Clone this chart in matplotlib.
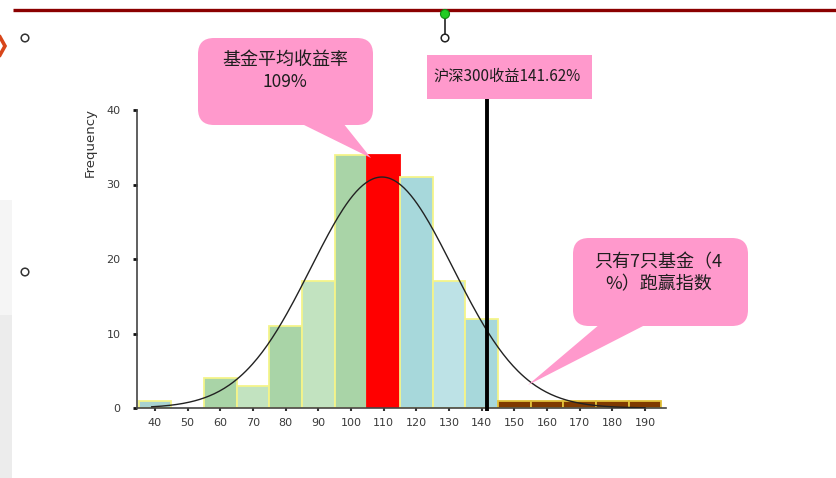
import numpy as np
import matplotlib
matplotlib.use("Agg")
import matplotlib.pyplot as plt
from matplotlib.patches import FancyBboxPatch, Polygon, Rectangle, Circle

plt.rcParams['font.family'] = ['Noto Sans CJK SC', 'DejaVu Sans']

# ---- data -------------------------------------------------------------
bin_centers = [40, 50, 60, 70, 80, 90, 100, 110, 120, 130, 140, 150, 160, 170, 180, 190]
fund_counts = [1, 0, 4, 3, 11, 17, 34, 34, 31, 17, 12, 1, 1, 1, 1, 1]
x_ticks = [40, 50, 60, 70, 80, 90, 100, 110, 120, 130, 140, 150, 160, 170, 180, 190]
y_ticks = [0, 10, 20, 30, 40]
avg_return = 109          # %
index_return = 141.62     # %
funds_beating = 7
share_beating = 4         # %
bin_width = 10

# ---- styling ----------------------------------------------------------
bar_colors = ['#A8D2D0', '#A9D6A9', '#A9D4A7', '#C2E3C0', '#A9D4A7', '#C2E3C0',
              '#A9D4A7', '#FF0000', '#A7D8DB', '#BDE2E6', '#A7D8DB',
              '#7F3A00', '#7F3A00', '#7F3A00', '#7F3A00', '#7F3A00']
edge_colors = ['#F4F48A'] * 7 + ['#FF0000'] + ['#F4F48A'] * 3 + ['#E2C23A'] * 5
pink = '#FF99CC'
text_dark = '#1E1E1E'

W, H = 837, 478
fig = plt.figure(figsize=(W / 100, H / 100), dpi=100)
fig.patch.set_facecolor('white')

# background decoration layer (pixel coordinates)
bg = fig.add_axes([0, 0, 1, 1], zorder=0)
bg.set_xlim(0, W)
bg.set_ylim(H, 0)
bg.axis('off')
bg.add_patch(Rectangle((0, 200), 12, 115, facecolor='#F5F5F5', edgecolor='none'))
bg.add_patch(Rectangle((0, 315), 12, 163, facecolor='#ECECEC', edgecolor='none'))

# ---- histogram axes ---------------------------------------------------
px_per_unit = 3.267
x_left, x_right = 34.5, 196.5
ax_left_px, ax_bottom_px = 137, 408
ax_w_px = (x_right - x_left) * px_per_unit
ax_h_px = 298
ax = fig.add_axes([ax_left_px / W, (H - ax_bottom_px) / H, ax_w_px / W, ax_h_px / H], zorder=1)
ax.patch.set_alpha(0)

lws = [1.3 if c > 0 else 0 for c in fund_counts]
ax.bar(bin_centers, fund_counts, width=bin_width, color=bar_colors,
       edgecolor=edge_colors, linewidth=lws, zorder=2)

# fitted normal curve from the histogram itself
centers = np.array(bin_centers, dtype=float)
counts = np.array(fund_counts, dtype=float)
n_total = counts.sum()
mu = (centers * counts).sum() / n_total
sd = np.sqrt((counts * (centers - mu) ** 2).sum() / (n_total - 1))
xs = np.linspace(39, 190, 300)
ys = n_total * bin_width / (sd * np.sqrt(2 * np.pi)) * np.exp(-0.5 * ((xs - mu) / sd) ** 2)
ax.plot(xs, ys, color='#222222', lw=1.0, zorder=3)

# index return marker line
ax.plot([index_return, index_return], [-0.4, 41.5], color='black', lw=2.8,
        solid_capstyle='butt', clip_on=False, zorder=4)

ax.set_xlim(x_left, x_right)
ax.set_ylim(0, 40)
ax.set_xticks(x_ticks)
ax.set_yticks(y_ticks)
ax.set_xticklabels([str(t) for t in x_ticks], fontsize=8, color='#3A3A3A',
                   family='DejaVu Sans')
ax.set_yticklabels([str(t) for t in y_ticks], fontsize=8, color='#3A3A3A',
                   family='DejaVu Sans')
ax.tick_params(axis='y', length=3, width=2, pad=9, color='#111111')
ax.tick_params(axis='x', length=2, width=1.5, pad=5, color='#333333')
for s in ['top', 'right']:
    ax.spines[s].set_visible(False)
for s in ['left', 'bottom']:
    ax.spines[s].set_color('#444444')
    ax.spines[s].set_linewidth(1.2)

fig.text(90 / W, 1 - 143 / H, 'Frequency', rotation=90, ha='center', va='center',
         fontsize=9.5, color='#333333', family='DejaVu Sans')

# ---- annotation layer (pixel coordinates) -----------------------------
ov = fig.add_axes([0, 0, 1, 1], zorder=5)
ov.set_xlim(0, W)
ov.set_ylim(H, 0)
ov.axis('off')
ov.patch.set_alpha(0)

# top rule and small handles
ov.plot([13, W], [9.5, 9.5], color='#8B0000', lw=2.4, solid_capstyle='butt', zorder=1)
ov.plot([445, 445], [14, 38], color='#222222', lw=1.2, zorder=2)
ov.add_patch(Circle((445, 14), 4.5, facecolor='#22CC22', edgecolor='#118811', lw=0.8, zorder=3))
ov.add_patch(Circle((445, 38), 3.8, facecolor='white', edgecolor='#222222', lw=1.1, zorder=3))
ov.add_patch(Circle((25, 38), 3.8, facecolor='white', edgecolor='#333333', lw=1.1))
ov.add_patch(Circle((25, 272), 3.8, facecolor='white', edgecolor='#333333', lw=1.1))
ov.plot([0, 5, 0], [37, 46, 55], color='#D8461A', lw=2.6, solid_joinstyle='miter')

# callout: average fund return
ov.add_patch(FancyBboxPatch((198, 38), 175, 87,
                            boxstyle='round,pad=0,rounding_size=16',
                            facecolor=pink, edgecolor='none'))
ov.add_patch(Polygon([(300, 123), (343, 123), (371, 158)], closed=True,
                     facecolor=pink, edgecolor='none'))
ov.text(285, 60, '基金平均收益率', ha='center', va='center', fontsize=13, color=text_dark)
ov.text(285, 82, f'{avg_return}%', ha='center', va='center', fontsize=12.5, color=text_dark)

# callout: index return
ov.add_patch(Rectangle((427, 55), 165, 44, facecolor=pink, edgecolor='none'))
ov.text(507, 76, f'沪深300收益{index_return}%', ha='center', va='center',
        fontsize=11, color=text_dark)

# callout: funds beating the index
ov.add_patch(FancyBboxPatch((573, 238), 175, 88,
                            boxstyle='round,pad=0,rounding_size=16',
                            facecolor=pink, edgecolor='none'))
ov.add_patch(Polygon([(600, 324), (647, 324), (528, 385)], closed=True,
                     facecolor=pink, edgecolor='none'))
ov.text(658, 262, f'只有{funds_beating}只基金（{share_beating}', ha='center', va='center',
        fontsize=13, color=text_dark)
ov.text(659, 284, '%）跑赢指数', ha='center', va='center', fontsize=13, color=text_dark)

fig.savefig('out.png', dpi=100)
